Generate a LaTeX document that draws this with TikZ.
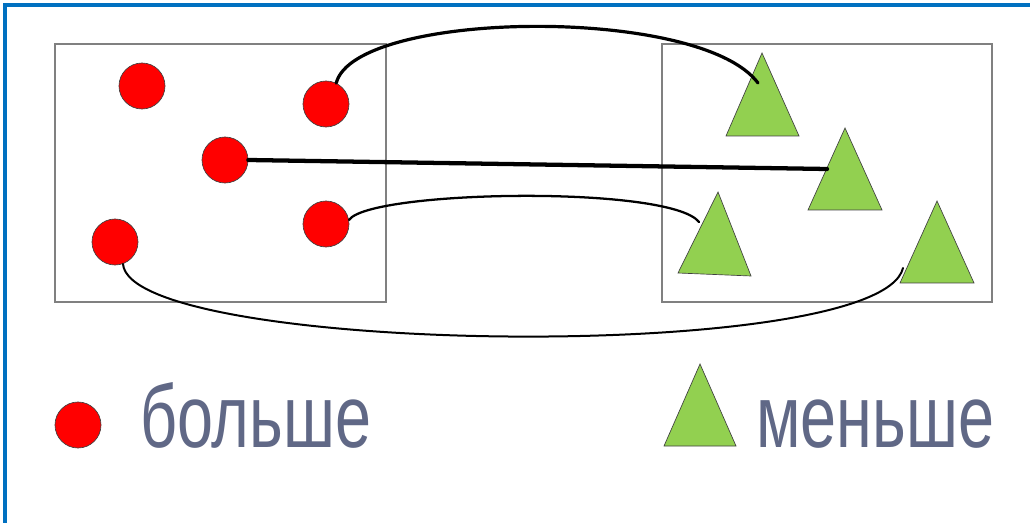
\documentclass[tikz,border=0pt]{standalone}
\usepackage{fontspec}
\newfontfamily\lblfont[FakeStretch=0.73]{Liberation Sans}
\definecolor{frameblue}{RGB}{0,112,192}
\definecolor{boxgray}{RGB}{128,128,128}
\definecolor{dotred}{RGB}{255,0,0}
\definecolor{trigreen}{RGB}{146,208,80}
\definecolor{txtgray}{RGB}{96,104,134}
\begin{document}
\begin{tikzpicture}[x=0.75pt,y=-0.75pt,
  dot/.style={circle,fill=dotred,draw=black!75,line width=0.5pt,minimum size=34.5pt,inner sep=0pt},
  tri/.style={fill=trigreen,draw=black!75,line width=0.5pt,line join=miter},
  setbox/.style={draw=boxgray,line width=0.9pt},
  link/.style={draw=black,line cap=round},
  lbl/.style={anchor=base west,inner sep=0pt,text=txtgray,font=\lblfont\fontsize{66.5}{70}\selectfont}]
\useasboundingbox (0,0) rectangle (1030,523);
% frame (left and top only)
\draw[frameblue,line width=3pt] (5,523) -- (5,5) -- (1030,5);
% boxes
\draw[setbox] (55,44) rectangle (386,302);
\draw[setbox] (662,44) rectangle (992,302);
% circles
\node[dot] (c1) at (142,86) {};
\node[dot] (c2) at (326,104) {};
\node[dot] (c3) at (225,160) {};
\node[dot] (c4) at (326,224) {};
\node[dot] (c5) at (115,242) {};
% triangles
\draw[tri] (762,53) -- (799,136) -- (726,136) -- cycle;
\draw[tri] (845,128) -- (882,210) -- (808,210) -- cycle;
\draw[tri] (718,192) -- (751,276) -- (678,273) -- cycle;
\draw[tri] (937,201) -- (974,283) -- (900,283) -- cycle;
\coordinate (t1) at (758,83);
\coordinate (t2) at (827,169);
\coordinate (t3) at (699,222);
\coordinate (t4) at (903,268);
% connectors
\draw[link,line width=2.4pt] (c2.64) .. controls (355,10) and (700,5) .. (t1);
\draw[link,line width=3.2pt] (c3.east) -- (t2);
\draw[link,line width=1.7pt] (c4.10) .. controls (370,190) and (670,185) .. (t3);
\draw[link,line width=1.5pt] (c5.-70) .. controls (130,355) and (880,365) .. (t4);
% legend
\node[dot] (lc) at (78,425) {};
\node[lbl] (lt1) at (140,447) {больше};
\draw[tri] (700,364) -- (736,446) -- (664,446) -- cycle;
\node[lbl] (lt2) at (756,447) {меньше};
\end{tikzpicture}
\end{document}
